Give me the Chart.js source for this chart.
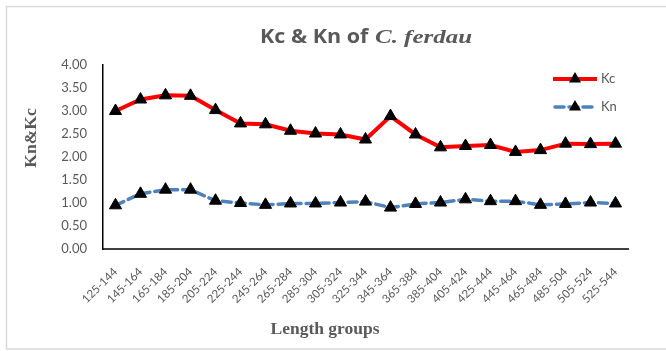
<!DOCTYPE html>
<html>
<head>
<meta charset="utf-8">
<script src="https://cdn.jsdelivr.net/npm/chart.js@4.4.0/dist/chart.umd.min.js"></script>
<style>
  html, body { margin: 0; padding: 0; background: #ffffff; }
  #wrap { width: 666px; height: 351px; position: relative; }
</style>
</head>
<body>
<div id="wrap"><canvas id="c" width="666" height="351"></canvas></div>
<script>
const categories = ["125-144","145-164","165-184","185-204","205-224","225-244","245-264","265-284","285-304","305-324","325-344","345-364","365-384","385-404","405-424","425-444","445-464","465-484","485-504","505-524","525-544"];
const kcValues = [3.00, 3.25, 3.34, 3.33, 3.02, 2.73, 2.71, 2.57, 2.51, 2.49, 2.38, 2.89, 2.49, 2.21, 2.24, 2.26, 2.11, 2.15, 2.29, 2.28, 2.29];
const knValues = [0.95, 1.20, 1.29, 1.29, 1.05, 1.00, 0.96, 0.99, 0.99, 1.01, 1.03, 0.90, 0.98, 1.01, 1.08, 1.04, 1.04, 0.96, 0.98, 1.01, 0.99];
const yTicks = [0, 0.5, 1, 1.5, 2, 2.5, 3, 3.5, 4];
const titleMain = "Kc & Kn of ";
const titleItalic = "C. ferdau";
const yTitle = "Kn&Kc";
const xTitle = "Length groups";
const seriesNames = ["Kc", "Kn"];

const GRAY = '#595959';
const RED = '#ff0000';
const BLUE = '#4f81bd';

function tri(ctx, x, y, r) {
  ctx.beginPath();
  let a = 0;
  ctx.moveTo(x + Math.sin(a) * r, y - Math.cos(a) * r);
  a += Math.PI * 2 / 3;
  ctx.lineTo(x + Math.sin(a) * r, y - Math.cos(a) * r);
  a += Math.PI * 2 / 3;
  ctx.lineTo(x + Math.sin(a) * r, y - Math.cos(a) * r);
  ctx.closePath();
  ctx.fillStyle = '#000';
  ctx.fill();
}

function drawScaledText(ctx, text, x, y, font, targetW) {
  ctx.save();
  ctx.font = font;
  const w = ctx.measureText(text).width;
  const sx = targetW / w;
  ctx.translate(x, y);
  ctx.scale(sx, 1);
  ctx.fillText(text, 0, 0);
  ctx.restore();
}

const decor = {
  id: 'decor',
  afterDraw(chart) {
    const ctx = chart.ctx;
    ctx.save();
    // outer frame
    ctx.strokeStyle = '#d9d9d9';
    ctx.lineWidth = 1.5;
    ctx.beginPath();
    ctx.moveTo(666, 6.5); ctx.lineTo(6.5, 6.5); ctx.lineTo(6.5, 349); ctx.lineTo(666, 349);
    ctx.stroke();

    // title
    ctx.fillStyle = GRAY;
    ctx.textBaseline = 'alphabetic';
    ctx.textAlign = 'left';
    drawScaledText(ctx, titleMain, 260, 43, 'bold 19px "Open Sans"', 114);
    drawScaledText(ctx, titleItalic, 375, 43, 'italic bold 19.5px "Liberation Serif"', 97);

    // y title
    ctx.save();
    ctx.translate(36, 138);
    ctx.rotate(-Math.PI / 2);
    ctx.font = 'bold 17.5px "Liberation Serif"';
    ctx.textAlign = 'center';
    ctx.textBaseline = 'alphabetic';
    ctx.fillText(yTitle, 0, 0);
    ctx.restore();

    // x title
    ctx.font = 'bold 17.5px "Liberation Serif"';
    ctx.textAlign = 'center';
    ctx.textBaseline = 'alphabetic';
    ctx.fillText(xTitle, 325, 334);

    // legend
    const items = [
      {y: 79, color: RED, dash: [], width: 4},
      {y: 107, color: BLUE, dash: [9, 5], width: 3.5}
    ];
    items.forEach((it, i) => {
      ctx.save();
      ctx.strokeStyle = it.color;
      ctx.lineWidth = it.width;
      ctx.setLineDash(it.dash);
      ctx.lineCap = i === 1 ? 'round' : 'butt';
      ctx.beginPath();
      ctx.moveTo(i === 1 ? 555 : 553, it.y);
      ctx.lineTo(597, it.y);
      ctx.stroke();
      ctx.restore();
      tri(ctx, 575, it.y, 7);
      ctx.fillStyle = GRAY;
      ctx.font = '13px Lato';
      ctx.textAlign = 'left';
      ctx.textBaseline = 'middle';
      ctx.fillText(seriesNames[i], 601, it.y);
    });
    ctx.restore();
  }
};

new Chart(document.getElementById('c'), {
  type: 'line',
  data: {
    labels: categories,
    datasets: [
      {
        label: seriesNames[0],
        data: kcValues,
        borderColor: RED,
        borderWidth: 4,
        pointStyle: 'triangle',
        pointRadius: 7,
        pointBackgroundColor: '#000',
        pointBorderColor: '#000',
        pointBorderWidth: 1,
        tension: 0
      },
      {
        label: seriesNames[1],
        data: knValues,
        borderColor: BLUE,
        borderWidth: 3.5,
        borderDash: [9, 5],
        borderCapStyle: 'round',
        pointStyle: 'triangle',
        pointRadius: 7,
        pointBackgroundColor: '#000',
        pointBorderColor: '#000',
        pointBorderWidth: 1,
        tension: 0
      }
    ]
  },
  options: {
    responsive: false,
    animation: false,
    devicePixelRatio: 1,
    layout: { padding: { top: 65, right: 38, bottom: 0, left: 0 } },
    plugins: {
      legend: { display: false },
      title: { display: false },
      tooltip: { enabled: false }
    },
    scales: {
      x: {
        offset: true,
        grid: { display: false },
        border: { display: true, color: '#404040', width: 2 },
        ticks: {
          autoSkip: false,
          maxRotation: 45,
          minRotation: 45,
          color: GRAY,
          font: { family: 'Lato', size: 11.5 },
          padding: 8
        },
        afterFit(s) { s.height = 102; }
      },
      y: {
        min: 0,
        max: 4,
        afterBuildTicks(s) { s.ticks = yTicks.map(v => ({ value: v })); },
        grid: { display: false },
        border: { display: true, color: '#000000', width: 1.5 },
        ticks: {
          color: GRAY,
          font: { family: 'Lato', size: 13 },
          padding: 8,
          callback: v => Number(v).toFixed(2)
        },
        afterFit(s) { s.width = 103; }
      }
    }
  },
  plugins: [decor]
});
</script>
</body>
</html>
